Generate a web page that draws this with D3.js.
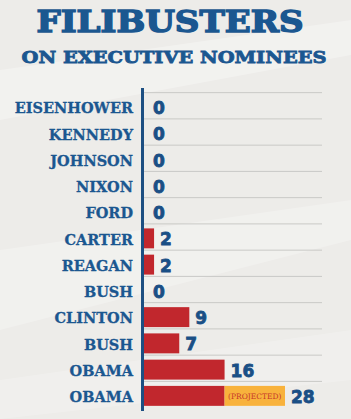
<!DOCTYPE html>
<html>
<head>
<meta charset="utf-8">
<script src="https://cdn.jsdelivr.net/npm/d3@7"></script>
<style>
  body { margin: 0; background: #edece9; }
  svg { display: block; }
</style>
</head>
<body>
<div id="chart"></div>
<script>
// data
const presidents = ["EISENHOWER", "KENNEDY", "JOHNSON", "NIXON", "FORD", "CARTER",
                    "REAGAN", "BUSH", "CLINTON", "BUSH", "OBAMA", "OBAMA"];
const filibusters = [0, 0, 0, 0, 0, 2, 2, 0, 9, 7, 16, 16];
// extra projected amount for the last row
const projected = [0, 0, 0, 0, 0, 0, 0, 0, 0, 0, 0, 12];
const totals = filibusters.map((d, i) => d + projected[i]);

const W = 351, H = 419;
const blue = "#1b5790", red = "#c1272d", orange = "#f8b23c";

let svg = d3.select("#chart")
    .append("svg")
    .attr("width", W)
    .attr("height", H);

// background with soft diagonal swooshes
svg.append("rect").attr("width", W).attr("height", H).attr("fill", "#edece9");
svg.append("path")
    .attr("d", "M0,70 L351,20 L351,55 L0,120 Z")
    .attr("fill", "#ffffff").attr("opacity", 0.3);
svg.append("path")
    .attr("d", "M0,250 L351,200 L351,240 L0,330 Z")
    .attr("fill", "#ffffff").attr("opacity", 0.25);
svg.append("path")
    .attr("d", "M0,380 L351,330 L351,380 L0,419 Z")
    .attr("fill", "#ffffff").attr("opacity", 0.2);

// title
svg.append("text")
    .attr("x", 170).attr("y", 32)
    .attr("text-anchor", "middle")
    .attr("font-family", "DejaVu Serif")
    .attr("font-weight", "bold")
    .attr("font-size", 29)
    .attr("textLength", 267)
    .attr("lengthAdjust", "spacingAndGlyphs")
    .attr("fill", blue)
    .attr("stroke", blue)
    .attr("stroke-width", 1.4)
    .text("FILIBUSTERS");
svg.append("text")
    .attr("x", 174).attr("y", 63)
    .attr("text-anchor", "middle")
    .attr("font-family", "DejaVu Serif")
    .attr("font-weight", "bold")
    .attr("font-size", 17)
    .attr("textLength", 305)
    .attr("lengthAdjust", "spacingAndGlyphs")
    .attr("fill", blue)
    .attr("stroke", blue)
    .attr("stroke-width", 0.8)
    .text("ON EXECUTIVE NOMINEES");

// scales
let x = d3.scaleLinear()
    .domain([0, 28])
    .range([144, 285]);

let y = d3.scaleBand()
    .domain(d3.range(presidents.length))
    .range([94, 409])
    .paddingInner(0.24)
    .paddingOuter(0.12);

// grid lines above each row
svg.append("g")
    .selectAll("line")
    .data(d3.range(presidents.length))
    .enter()
    .append("line")
    .attr("x1", x(0))
    .attr("x2", 322)
    .attr("y1", i => y(i) - 4.5)
    .attr("y2", i => y(i) - 4.5)
    .attr("stroke", "#c9c9c6")
    .attr("stroke-width", 1);

// bars
svg.append("g")
    .selectAll("rect")
    .data(filibusters)
    .enter()
    .append("rect")
    .attr("x", x(0))
    .attr("y", (d, i) => y(i))
    .attr("width", d => x(d) - x(0))
    .attr("height", y.bandwidth())
    .attr("fill", red);

// projected part
let proj = svg.append("g")
    .selectAll("g")
    .data(projected.map((d, i) => ({v: d, i: i})).filter(d => d.v > 0))
    .enter()
    .append("g");
proj.append("rect")
    .attr("x", d => x(filibusters[d.i]))
    .attr("y", d => y(d.i))
    .attr("width", d => x(filibusters[d.i] + d.v) - x(filibusters[d.i]))
    .attr("height", y.bandwidth())
    .attr("fill", orange);
proj.append("text")
    .attr("x", d => (x(filibusters[d.i]) + x(totals[d.i])) / 2)
    .attr("y", d => y(d.i) + y.bandwidth() / 2)
    .attr("dy", "0.35em")
    .attr("text-anchor", "middle")
    .attr("font-family", "DejaVu Serif")
    .attr("font-size", 7.5)
    .attr("fill", "#c6372a")
    .text("(PROJECTED)");

// president labels
svg.append("g")
    .selectAll("text")
    .data(presidents)
    .enter()
    .append("text")
    .attr("x", 133)
    .attr("y", (d, i) => y(i) + y.bandwidth() / 2 + 1)
    .attr("dy", "0.36em")
    .attr("text-anchor", "end")
    .attr("font-family", "DejaVu Serif")
    .attr("font-weight", "bold")
    .attr("font-size", 14.5)
    .attr("fill", blue)
    .attr("stroke", blue)
    .attr("stroke-width", 0.3)
    .text(d => d);

// value labels
svg.append("g")
    .selectAll("text")
    .data(totals)
    .enter()
    .append("text")
    .attr("x", d => x(d) + (d === 0 ? 9 : 6))
    .attr("y", (d, i) => y(i) + y.bandwidth() / 2 + 1)
    .attr("dy", "0.36em")
    .attr("font-family", "DejaVu Sans")
    .attr("font-weight", "bold")
    .attr("font-size", 17)
    .attr("fill", "#1a4f85")
    .attr("stroke", "#1a4f85")
    .attr("stroke-width", 0.8)
    .text(d => d);

// vertical axis line
svg.append("line")
    .attr("x1", x(0) - 1.5).attr("x2", x(0) - 1.5)
    .attr("y1", 88).attr("y2", 411)
    .attr("stroke", "#1d4f82")
    .attr("stroke-width", 3);
</script>
</body>
</html>
